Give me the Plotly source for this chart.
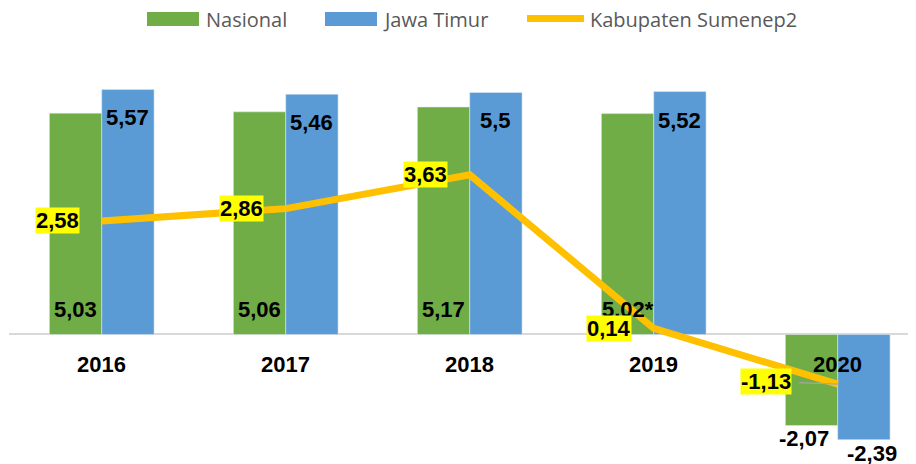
import plotly.graph_objects as go

# ---- data ----
years = ["2016", "2017", "2018", "2019", "2020"]
nasional = [5.03, 5.06, 5.17, 5.02, -2.07]
nasional_note = ["", "", "", "*", ""]
jawa_timur = [5.57, 5.46, 5.50, 5.52, -2.39]
sumenep = [2.58, 2.86, 3.63, 0.14, -1.13]
series_names = ["Nasional", "Jawa Timur", "Kabupaten Sumenep2"]

GREEN = "#70AD47"
BLUE = "#5B9BD5"
GOLD = "#FFC000"
YELLOW = "#FFFF00"
LBL_FONT = "Liberation Sans, Arial, sans-serif"
LEG_FONT = "Open Sans, sans-serif"


def fmt(v):
    s = ("%.2f" % v).rstrip("0").rstrip(".")
    return s.replace(".", ",")


xs = list(range(len(years)))

# geometry (page pixel coordinates; the page body adds an 8px offset)
W, H = 916, 464
OFF = 8
PL, PR, PT, PB = 9, 916, 70, 455
PW = PR - PL
PH = PB - PT
BARGAP = 0.431
half = (1 - BARGAP) / 4.0  # offset of each bar centre from category centre


def px(xpix):
    return (xpix - PL) / PW


def py(ypix):
    return (PB - ypix) / PH


fig = go.Figure()
fig.add_trace(go.Bar(x=xs, y=nasional, name=series_names[0], marker_color=GREEN,
                     showlegend=False, hoverinfo="skip"))
fig.add_trace(go.Bar(x=xs, y=jawa_timur, name=series_names[1], marker_color=BLUE,
                     showlegend=False, hoverinfo="skip"))
fig.add_trace(go.Scatter(x=xs, y=sumenep, name=series_names[2], mode="lines",
                         line=dict(color=GOLD, width=7), showlegend=False,
                         hoverinfo="skip"))

ann = []
lab = dict(family=LBL_FONT, size=22, color="black")
# category labels near zero line
for i, yr in enumerate(years):
    ann.append(dict(x=i, y=0, text="<b>%s</b>" % yr, showarrow=False,
                    xanchor="center", yanchor="middle", yshift=-30.5, font=lab))
# Nasional labels
for i, v in enumerate(nasional):
    t = "<b>%s%s</b>" % (fmt(v), nasional_note[i])
    if v >= 0:
        ann.append(dict(x=i - half, y=0, text=t, showarrow=False, xanchor="center",
                        yanchor="middle", yshift=25, font=lab))
    else:
        ann.append(dict(x=i - half, y=v, text=t, showarrow=False, xanchor="center",
                        yanchor="middle", yshift=-13, xshift=-8, font=lab))
# Jawa Timur labels
for i, v in enumerate(jawa_timur):
    t = "<b>%s</b>" % fmt(v)
    if v >= 0:
        ann.append(dict(x=i + half, y=v, text=t, showarrow=False, xanchor="center",
                        yanchor="middle", yshift=-28.5, font=lab))
    else:
        ann.append(dict(x=i + half, y=v, text=t, showarrow=False, xanchor="center",
                        yanchor="middle", yshift=-14, xshift=8, font=lab))
# Sumenep labels (yellow boxes)
for i, v in enumerate(sumenep):
    t = "<b>%s</b>" % fmt(v)
    if v >= 0:
        ann.append(dict(x=i, y=v, text=t, showarrow=False, xanchor="right",
                        yanchor="middle", xshift=-21.5, bgcolor=YELLOW, borderpad=0,
                        font=lab))
    else:
        ann.append(dict(x=i, y=v, text=t, showarrow=True, ax=-72, ay=-3,
                        axref="pixel", ayref="pixel", arrowhead=0, arrowwidth=1.3,
                        arrowcolor="#A6A6A6", standoff=0, startstandoff=8,
                        bgcolor=YELLOW, borderpad=0, font=lab))

# custom legend
leg_font = dict(family=LEG_FONT, size=20, color="#595959")
shapes = []
legend_items = [
    (series_names[0], "rect", GREEN, 147, 199, 204),
    (series_names[1], "rect", BLUE, 325, 377, 381),
    (series_names[2], "line", GOLD, 527, 584, 588),
]
for name, kind, col, x0, x1, tx in legend_items:
    if kind == "rect":
        shapes.append(dict(type="rect", xref="paper", yref="paper",
                           x0=px(x0), x1=px(x1), y0=py(26), y1=py(12),
                           fillcolor=col, line=dict(width=0)))
    else:
        shapes.append(dict(type="rect", xref="paper", yref="paper",
                           x0=px(x0), x1=px(x1), y0=py(22), y1=py(15),
                           fillcolor=col, line=dict(width=0)))
    ann.append(dict(x=px(tx), y=py(19), xref="paper", yref="paper", text=name,
                    showarrow=False, xanchor="left", yanchor="middle", font=leg_font))

fig.update_layout(
    width=W, height=H,
    margin=dict(l=PL - OFF, r=W - (PR - OFF), t=PT - OFF, b=H - (PB - OFF), pad=0),
    paper_bgcolor="white", plot_bgcolor="white",
    barmode="group", bargap=BARGAP, bargroupgap=0,
    showlegend=False,
    xaxis=dict(range=[-0.504, 4.4255], showgrid=False, zeroline=False,
               showticklabels=False, ticks="", showline=False, fixedrange=True),
    yaxis=dict(range=[-2.739, 6.011], showgrid=False, zeroline=True,
               zerolinecolor="#D9D9D9", zerolinewidth=1.5,
               showticklabels=False, ticks="", showline=False, fixedrange=True),
    annotations=ann,
    shapes=shapes,
)

fig.write_html("out.html")
